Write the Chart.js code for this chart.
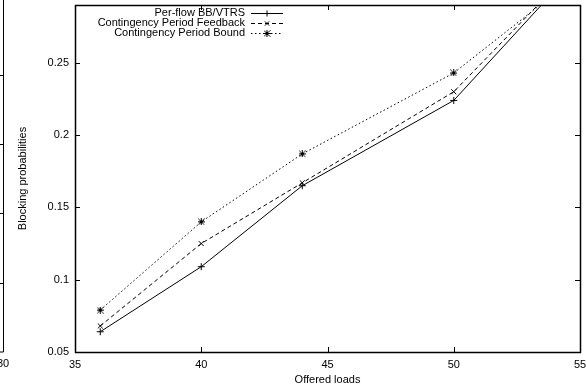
<!DOCTYPE html>
<html>
<head>
<meta charset="utf-8">
<script src="https://cdn.jsdelivr.net/npm/chart.js@4.4.0/dist/chart.umd.min.js"></script>
<style>
  html, body { margin: 0; padding: 0; background: #fff; }
  #wrap { width: 586px; height: 389px; }
</style>
</head>
<body>
<div id="wrap"><canvas id="myChart" width="586" height="389"></canvas></div>
<script>
// Data
var loads = [36, 40, 44, 50, 54];
var perFlow = [0.064, 0.109, 0.165, 0.224, 0.300];
var feedback = [0.068, 0.125, 0.167, 0.230, 0.302];
var bound = [0.079, 0.140, 0.187, 0.243, 0.298];

var seriesNames = ['Per-flow BB/VTRS', 'Contingency Period Feedback', 'Contingency Period Bound'];
var xTicks = [35, 40, 45, 50, 55];
var yTicks = [0.05, 0.1, 0.15, 0.2, 0.25];

var FONT = 'Liberation Sans, Arial, Helvetica, sans-serif';

function toPoints(ys) {
    return loads.map(function (x, i) { return { x: x, y: ys[i] }; });
}

// gnuplot-like '*' marker (plus + cross)
function starMarker() {
    var c = document.createElement('canvas');
    c.width = 7; c.height = 7;
    var g = c.getContext('2d');
    g.strokeStyle = '#000';
    g.lineWidth = 1;
    g.beginPath();
    g.moveTo(0, 3.5); g.lineTo(7, 3.5);
    g.moveTo(3.5, 0); g.lineTo(3.5, 7);
    g.moveTo(0.5, 0.5); g.lineTo(6.5, 6.5);
    g.moveTo(6.5, 0.5); g.lineTo(0.5, 6.5);
    g.stroke();
    return c;
}
var star = starMarker();

var styles = [
    { dash: [], point: 'cross', radius: 3.5 },
    { dash: [4, 3], point: 'crossRot', radius: 3.5 },
    { dash: [1.5, 2.5], point: star, radius: 3.5 }
];

// inner tick marks, mirrored box, legend - drawn like gnuplot
var gnuplotFrame = {
    id: 'gnuplotFrame',
    afterDatasetsDraw: function (chart) {
        var ctx = chart.ctx;
        var a = chart.chartArea;
        var xs = chart.scales.x, ys = chart.scales.y;
        ctx.save();
        ctx.strokeStyle = '#000';
        ctx.lineWidth = 1;
        ctx.beginPath();
        xTicks.forEach(function (v) {
            var px = Math.round(xs.getPixelForValue(v)) + 0.5;
            ctx.moveTo(px, a.bottom); ctx.lineTo(px, a.bottom - 5);
            ctx.moveTo(px, a.top); ctx.lineTo(px, a.top + 5);
        });
        yTicks.forEach(function (v) {
            var py = Math.round(ys.getPixelForValue(v)) + 0.5;
            ctx.moveTo(a.left, py); ctx.lineTo(a.left + 5, py);
            ctx.moveTo(a.right, py); ctx.lineTo(a.right - 5, py);
        });
        ctx.stroke();
        ctx.lineWidth = 1.5;
        ctx.strokeRect(Math.round(a.left) + 0.5, Math.round(a.top) + 0.5,
            Math.round(a.right - a.left), Math.round(a.bottom - a.top));

        // legend, text right-aligned with sample to the right
        ctx.font = '11px ' + FONT;
        ctx.fillStyle = '#000';
        ctx.textAlign = 'right';
        ctx.textBaseline = 'middle';
        ctx.lineWidth = 1;
        chart.data.datasets.forEach(function (ds, i) {
            var y = a.top + 8 + i * 10;
            ctx.fillText(ds.label, 245, y);
            ctx.setLineDash(styles[i].dash);
            ctx.beginPath();
            ctx.moveTo(251, y + 0.5); ctx.lineTo(283, y + 0.5);
            ctx.stroke();
            ctx.setLineDash([]);
            Chart.helpers.drawPoint(ctx, { pointStyle: styles[i].point, radius: 3, borderWidth: 1 }, 267, y + 0.5);
        });

        // edge of the neighbouring plot cut off on the left
        ctx.beginPath();
        ctx.moveTo(3.5, 0); ctx.lineTo(3.5, a.bottom);
        ctx.lineTo(0, a.bottom);
        [75, 144, 213, 283].forEach(function (py) {
            ctx.moveTo(0, py + 0.5); ctx.lineTo(3.5, py + 0.5);
        });
        ctx.stroke();
        ctx.textAlign = 'center';
        ctx.fillText('30', 3, 364);
        ctx.restore();
    }
};

var ctx = document.getElementById('myChart').getContext('2d');
var myChart = new Chart(ctx, {
    type: 'line',
    data: {
        datasets: [perFlow, feedback, bound].map(function (ys, i) {
            return {
                label: seriesNames[i],
                data: toPoints(ys),
                borderColor: '#000',
                backgroundColor: '#000',
                borderWidth: 1,
                borderDash: styles[i].dash,
                pointStyle: styles[i].point,
                pointRadius: styles[i].radius,
                pointBorderWidth: 1,
                pointBorderColor: '#000',
                tension: 0
            };
        })
    },
    options: {
        responsive: false,
        animation: false,
        layout: { padding: { left: 12, right: 6, top: 5, bottom: 0 } },
        plugins: { legend: { display: false }, tooltip: { enabled: false } },
        scales: {
            x: {
                type: 'linear',
                min: 35, max: 55,
                afterBuildTicks: function (s) { s.ticks = xTicks.map(function (v) { return { value: v }; }); },
                afterFit: function (s) { s.height = 37; s.paddingLeft = 0; s.paddingRight = 0; },
                grid: { display: false, drawTicks: false },
                border: { display: false },
                ticks: { color: '#000', padding: 6, font: { family: FONT, size: 11 } },
                title: { display: true, text: 'Offered loads', color: '#000', padding: { top: 0, bottom: 2 }, font: { family: FONT, size: 11 } }
            },
            y: {
                type: 'linear',
                min: 0.05, max: 0.29,
                afterBuildTicks: function (s) { s.ticks = yTicks.map(function (v) { return { value: v }; }); },
                afterFit: function (s) { s.width = 63; s.paddingTop = 0; s.paddingBottom = 0; },
                grid: { display: false, drawTicks: false },
                border: { display: false },
                ticks: { color: '#000', padding: 6, font: { family: FONT, size: 11 }, callback: function (v) { return String(v); } },
                title: { display: true, text: 'Blocking probabilities', color: '#000', padding: { top: 4, bottom: 4 }, font: { family: FONT, size: 11 } }
            }
        }
    },
    plugins: [gnuplotFrame]
});
</script>
</body>
</html>
